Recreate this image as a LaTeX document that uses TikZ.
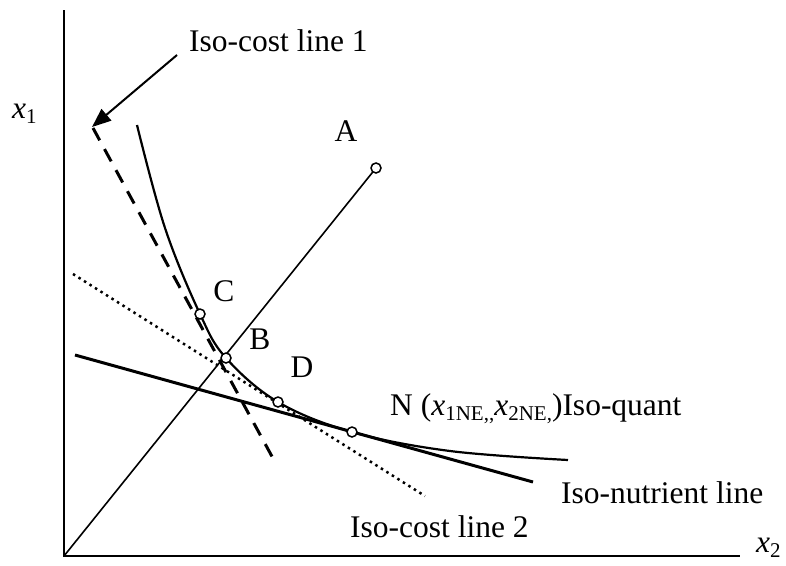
\documentclass[tikz,border=0pt]{standalone}
\usepackage{fontspec}
\setmainfont{Liberation Serif}
\usetikzlibrary{arrows.meta}
\newcommand\sbx[1]{\raisebox{-0.35ex}{\fontsize{21}{21}\selectfont #1}}
\begin{document}
\begin{tikzpicture}[x=1pt,y=-1pt,
  lbl/.style={inner sep=0pt,font=\fontsize{31.5}{36}\selectfont},
  pt/.style={circle,draw,fill=white,line width=1.5pt,minimum size=10pt,inner sep=0pt},
  axis/.style={line width=2pt},
  quant/.style={line width=2.2pt},
  nutr/.style={line width=3pt},
  cost1/.style={line width=3pt,dash pattern=on 14pt off 10pt},
  cost2/.style={line width=2.5pt,dash pattern=on 2.5pt off 4pt},
  ray/.style={line width=1.6pt}]
\useasboundingbox (0,0) rectangle (786,565);
% axes
\coordinate (O) at (64,556);
\coordinate (ytop) at (64,10);
\coordinate (xend) at (740,556);
\draw[axis] (ytop) -- (O) -- (xend);
% named points
\coordinate (Ap) at (376,168);
\coordinate (Bp) at (226,358);
\coordinate (Cp) at (200,314);
\coordinate (Dp) at (278,402);
\coordinate (Np) at (352,432);
% ray
\draw[ray] (O) -- (Ap);
% iso-cost 1 (dashed)
\coordinate (c1a) at (93,128);
\coordinate (c1b) at (275,462);
\draw[cost1] (c1a) -- (c1b);
% iso-cost 2 (dotted)
\coordinate (c2a) at (73,274);
\coordinate (c2b) at (425,496);
\draw[cost2] (c2a) -- (c2b);
% iso-nutrient
\coordinate (nla) at (75,355);
\coordinate (nlb) at (533,482);
\draw[nutr] (nla) -- (nlb);
% iso-quant
\draw[quant] plot[smooth,tension=0.6] coordinates {(137,125) (165,228) (200,314) (226,358) (278,402) (352,432) (450,451) (568,460)};
% arrow
\coordinate (arrtail) at (177,55);
\coordinate (arrtip) at (92,127);
\draw[line width=2pt,-{Triangle[length=19pt,width=15pt]}] (arrtail) -- (arrtip);
% circles
\node[pt] (A) at (Ap) {};
\node[pt] (B) at (Bp) {};
\node[pt] (C) at (Cp) {};
\node[pt] (D) at (Dp) {};
\node[pt] (N) at (Np) {};
% labels
\node[lbl,anchor=base west] (t1) at (189,51) {Iso-cost line 1};
\node[lbl,anchor=base west] (tx1) at (12,118) {\textit{x}\sbx{1}};
\node[lbl,anchor=base] (tA) at (346,141) {A};
\node[lbl,anchor=base] (tC) at (224,301) {C};
\node[lbl,anchor=base] (tB) at (260,349) {B};
\node[lbl,anchor=base] (tD) at (302,377) {D};
\node[lbl,anchor=base west] (tN) at (390,415) {N (\textit{x}\sbx{1NE,{},}\textit{x}\sbx{2NE,})Iso-quant};
\node[lbl,anchor=base west] (tnut) at (561,503) {Iso-nutrient line};
\node[lbl,anchor=base west] (tc2) at (350,537) {Iso-cost line 2};
\node[lbl,anchor=base west] (tx2) at (756,552) {\textit{x}\sbx{2}};
\end{tikzpicture}
\end{document}
